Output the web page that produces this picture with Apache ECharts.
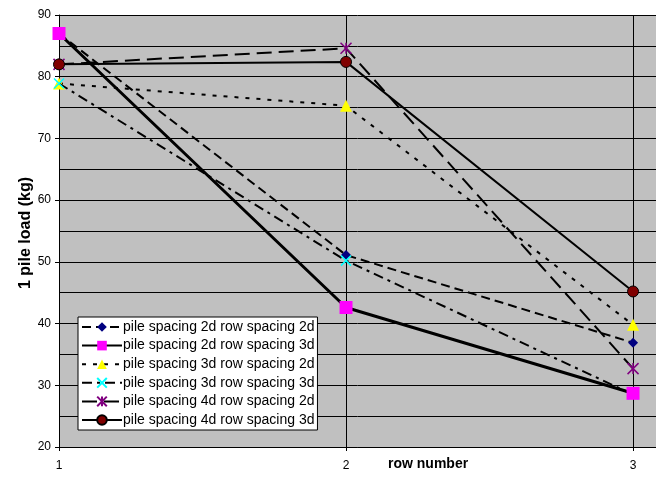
<!DOCTYPE html>
<html><head><meta charset="utf-8">
<script src="https://cdn.jsdelivr.net/npm/echarts@6/dist/echarts.min.js"></script>
<style>html,body{margin:0;padding:0;background:#fff}#c{width:656px;height:480px}</style>
</head><body><div id="c"></div>
<script>
var rows = [1, 2, 3];
var seriesNames = [
  'pile spacing 2d row spacing 2d',
  'pile spacing 2d row spacing 3d',
  'pile spacing 3d row spacing 2d',
  'pile spacing 3d row spacing 3d',
  'pile spacing 4d row spacing 2d',
  'pile spacing 4d row spacing 3d'
];
var s2d2d = [87.0, 51.1, 36.9];
var s2d3d = [87.0, 42.6, 28.7];
var s3d2d = [78.9, 75.3, 39.8];
var s3d3d = [78.9, 50.2, 28.5];
var s4d2d = [82.0, 84.6, 32.7];
var s4d3d = [82.0, 82.4, 45.2];
var yTicks = [20, 30, 40, 50, 60, 70, 80, 90];

var values = [s2d2d, s2d3d, s3d2d, s3d3d, s4d2d, s4d3d];
var styles = [
  {symbol:'diamond', size:10, fill:'#000080', border:'#000080', bw:0, lw:2, type:[9,5]},
  {symbol:'rect', size:13, fill:'#ff00ff', border:'#ff00ff', bw:0, lw:3, type:'solid'},
  {symbol:'triangle', size:12, fill:'#ffff00', border:'#ffff00', bw:0, lw:2, type:[4,7]},
  {symbol:'path://M0,0L10,10M10,0L0,10', size:10, fill:'none', border:'#00ffff', bw:1.5, lw:2, type:[10,5,3,5]},
  {symbol:'path://M0,0L10,10M10,0L0,10M5,0L5,10', size:11, fill:'none', border:'#800080', bw:1.5, lw:2, type:[15,7]},
  {symbol:'circle', size:11, fill:'#800000', border:'#000', bw:1, lw:2, type:'solid'}
];
var series = values.map(function(v, i){
  var st = styles[i];
  return {
    name: seriesNames[i], type:'line', z: 2 + i,
    data: rows.map(function(r, j){ return [r, v[j]]; }),
    symbol: st.symbol, symbolSize: st.size,
    lineStyle: {color:'#000', width: st.lw, type: st.type},
    itemStyle: {color: st.fill === 'none' ? 'rgba(0,0,0,0)' : st.fill, borderColor: st.border, borderWidth: st.bw},
    emphasis: {disabled:true}
  };
});
series[1].z = 10; series[5].z = 9;

var chart = echarts.init(document.getElementById('c'), null, {renderer:'canvas'});
chart.setOption({
  animation:false,
  textStyle:{fontFamily:'Liberation Sans, Arial, sans-serif'},
  grid:{left:59, top:15, right:0, bottom:33, show:true, backgroundColor:'#c0c0c0', borderWidth:0,
    containLabel:false, outerBoundsMode:'none'},
  xAxis:{type:'value', min:1, max:3.08, interval:1,
    axisLine:{onZero:false, lineStyle:{color:'#000', width:1}},
    axisTick:{show:true, length:4, lineStyle:{color:'#000'}},
    axisLabel:{color:'#000', fontSize:12, margin:13,
      formatter:function(v){ return rows.indexOf(v) >= 0 ? String(v) : ''; }},
    splitLine:{show:true, lineStyle:{color:'#000', width:1}}
  },
  yAxis:{type:'value', min:yTicks[0], max:yTicks[yTicks.length-1], interval:10,
    axisLine:{show:true, lineStyle:{color:'#000', width:1}},
    axisTick:{show:true, length:4, lineStyle:{color:'#000'}},
    axisLabel:{color:'#000', fontSize:12, margin:8},
    splitLine:{show:true, lineStyle:{color:'#000', width:1}},
    minorTick:{show:false, splitNumber:2},
    minorSplitLine:{show:true, lineStyle:{color:'#000', width:1}}
  },
  graphic:[
    {type:'text', x:388, y:457,
      style:{text:'row number', font:'bold 14px "Liberation Sans", Arial, sans-serif', fill:'#000'}},
    {type:'text', x:26, y:233, rotation:Math.PI/2,
      style:{text:'1 pile load (kg)', font:'bold 16px "Liberation Sans", Arial, sans-serif', fill:'#000',
        align:'center', verticalAlign:'middle'}}
  ],
  legend:{orient:'vertical', left:78, top:317, backgroundColor:'#fff', borderColor:'#000', borderWidth:1,
    padding:[3,3,3,3], itemWidth:40, itemHeight:12, itemGap:4.6,
    textStyle:{fontSize:14, lineHeight:14, color:'#000', padding:[0,0,0,-4]},
    data: seriesNames},
  series: series
});
</script></body></html>
